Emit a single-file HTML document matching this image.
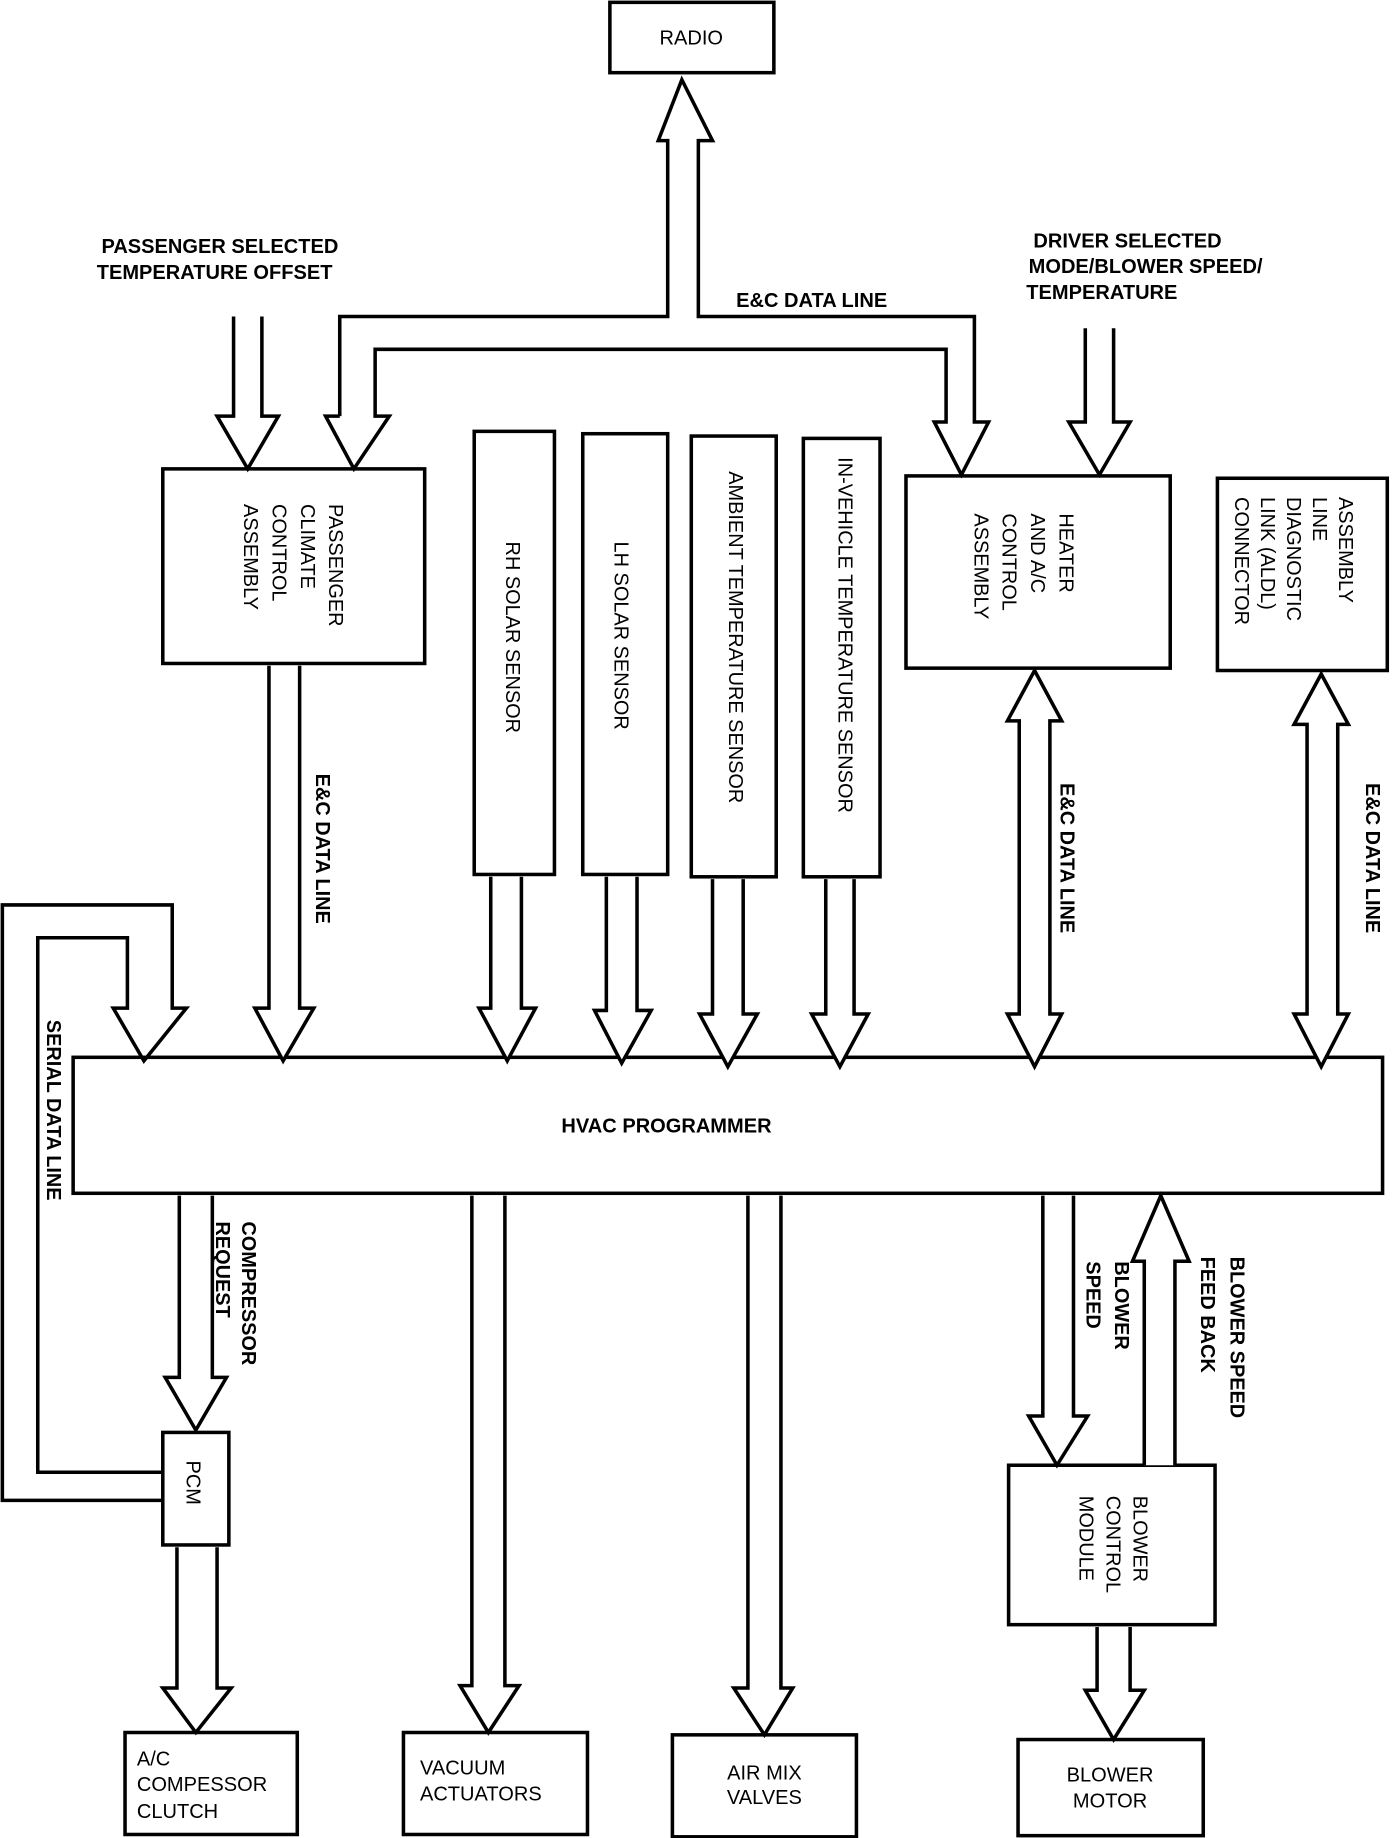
<!DOCTYPE html>
<html><head><meta charset="utf-8"><style>
html,body{margin:0;padding:0;background:#fff;}
svg{display:block;}
text{font-family:"Liberation Sans",Arial,sans-serif;fill:#000;}
.b{font-weight:bold;font-size:17px;}
.n{font-size:17px;}
</style></head><body>
<svg width="1392" height="1838" viewBox="0 0 1180 1568" preserveAspectRatio="none" xmlns="http://www.w3.org/2000/svg">
<g fill="#fff" stroke="#000" stroke-width="3" stroke-linejoin="miter">
<!-- boxes -->
<rect x="517" y="2" width="139" height="60"/>
<rect x="138" y="400" width="222" height="166"/>
<rect x="402" y="368" width="68" height="378"/>
<rect x="494" y="370" width="72" height="376"/>
<rect x="586" y="372" width="72" height="376"/>
<rect x="681" y="374" width="65" height="374"/>
<rect x="768" y="406" width="224" height="164"/>
<rect x="1032" y="408" width="144" height="164"/>
<rect x="62" y="902" width="1110" height="116"/>
<rect x="138" y="1222" width="56" height="96"/>
<rect x="106" y="1478" width="146" height="87"/>
<rect x="342" y="1478" width="156" height="87"/>
<rect x="570" y="1480" width="156" height="87"/>
<rect x="855" y="1250" width="175" height="136"/>
<rect x="863" y="1484" width="157" height="82"/>

<!-- radio / E&C network -->
<polyline points="288,355 288,270 566,270 566,120 558,120 578,68 604,120 592,120 592,270 826,270 826,360 838,360 815,405 792,360 802,360 802,298 318,298 318,355 330,355 300,400 276,355 288,355" fill="#fff"/>
<!-- passenger selected arrow -->
<polyline points="198,270 198,355 184,355 210,400 236,355 222,355 222,270"/>
<!-- driver arrow -->
<polyline points="920,280 920,360 906,360 932,405 958,360 944,360 944,280"/>
<!-- passenger down -->
<polyline points="228,568 228,860 216,860 240,905 266,860 254,860 254,568"/>
<!-- sensor arrows -->
<polyline points="416,748 416,860 406,860 430,905 454,860 442,860 442,748"/>
<polyline points="514,748 514,862 504,862 527,907 552,862 540,862 540,748"/>
<polyline points="604,750 604,865 593,865 617,910 642,865 630,865 630,750"/>
<polyline points="700,750 700,865 688,865 712,910 736,865 724,865 724,750"/>
<!-- double arrows -->
<polygon points="877,572 900,615 890,615 890,865 900,865 877,910 854,865 864,865 864,615 854,615"/>
<polygon points="1120,575 1143,618 1134,618 1134,865 1143,865 1120,910 1097,865 1108,865 1108,618 1097,618"/>
<!-- serial data line -->
<polyline points="138,1280 2,1280 2,772 146,772 146,860 158,860 122,905 96,860 108,860 108,800 32,800 32,1256 138,1256" fill="none"/>
<!-- compressor request -->
<polyline points="152,1020 152,1175 140,1175 166,1220 192,1175 180,1175 180,1020"/>
<!-- PCM down -->
<polyline points="150,1320 150,1440 138,1440 166,1478 196,1440 184,1440 184,1320"/>
<!-- vacuum -->
<polyline points="400,1020 400,1438 390,1438 414,1478 440,1438 428,1438 428,1020"/>
<!-- air mix -->
<polyline points="634,1020 634,1440 622,1440 648,1480 672,1440 662,1440 662,1020"/>
<!-- blower speed -->
<polyline points="884,1020 884,1208 872,1208 896,1250 922,1208 910,1208 910,1020"/>
<!-- feed back -->
<polyline points="970,1250 970,1076 960,1076 984,1020 1008,1076 996,1076 996,1250"/>
<!-- blower down -->
<polyline points="930,1388 930,1442 920,1442 944,1484 970,1442 958,1442 958,1388"/>
</g>

<!-- horizontal labels -->
<text class="n" x="586" y="38" text-anchor="middle">RADIO</text>
<text class="b" x="86" y="216">PASSENGER SELECTED</text>
<text class="b" x="82" y="238">TEMPERATURE OFFSET</text>
<text class="b" x="624" y="262">E&amp;C DATA LINE</text>
<text class="b" x="876" y="211">DRIVER SELECTED</text>
<text class="b" x="872" y="233">MODE/BLOWER SPEED/</text>
<text class="b" x="870" y="255">TEMPERATURE</text>
<text class="b" x="565" y="966" text-anchor="middle">HVAC PROGRAMMER</text>
<text class="n" x="116" y="1506">A/C</text>
<text class="n" x="116" y="1528">COMPESSOR</text>
<text class="n" x="116" y="1551">CLUTCH</text>
<text class="n" x="356" y="1514">VACUUM</text>
<text class="n" x="356" y="1536">ACTUATORS</text>
<text class="n" x="648" y="1518" text-anchor="middle">AIR MIX</text>
<text class="n" x="648" y="1539" text-anchor="middle">VALVES</text>
<text class="n" x="941" y="1520" text-anchor="middle">BLOWER</text>
<text class="n" x="941" y="1542" text-anchor="middle">MOTOR</text>

<!-- rotated labels -->
<g class="n">
<text class="n" transform="translate(279,430) rotate(90)">PASSENGER</text>
<text class="n" transform="translate(255,430) rotate(90)">CLIMATE</text>
<text class="n" transform="translate(231,430) rotate(90)">CONTROL</text>
<text class="n" transform="translate(207,430) rotate(90)">ASSEMBLY</text>
<text class="n" transform="translate(429,462) rotate(90)">RH SOLAR SENSOR</text>
<text class="n" transform="translate(521,462) rotate(90)">LH SOLAR SENSOR</text>
<text class="n" transform="translate(618,402) rotate(90)">AMBIENT TEMPERATURE SENSOR</text>
<text class="n" transform="translate(711,390) rotate(90)">IN-VEHICLE TEMPERATURE SENSOR</text>
<text class="n" transform="translate(898,438) rotate(90)">HEATER</text>
<text class="n" transform="translate(874,438) rotate(90)">AND A/C</text>
<text class="n" transform="translate(850,438) rotate(90)">CONTROL</text>
<text class="n" transform="translate(826,438) rotate(90)">ASSEMBLY</text>
<text class="n" transform="translate(1135,424) rotate(90)">ASSEMBLY</text>
<text class="n" transform="translate(1113,424) rotate(90)">LINE</text>
<text class="n" transform="translate(1091,424) rotate(90)">DIAGNOSTIC</text>
<text class="n" transform="translate(1069,424) rotate(90)">LINK (ALDL)</text>
<text class="n" transform="translate(1047,424) rotate(90)">CONNECTOR</text>
<text class="n" transform="translate(158,1246) rotate(90)">PCM</text>
<text class="n" transform="translate(961,1276) rotate(90)">BLOWER</text>
<text class="n" transform="translate(938,1276) rotate(90)">CONTROL</text>
<text class="n" transform="translate(915,1276) rotate(90)">MODULE</text>
</g>
<text class="b" transform="translate(268,660) rotate(90)">E&amp;C DATA LINE</text>
<text class="b" transform="translate(899,668) rotate(90)">E&amp;C DATA LINE</text>
<text class="b" transform="translate(1158,668) rotate(90)">E&amp;C DATA LINE</text>
<text class="b" transform="translate(40,870) rotate(90)">SERIAL DATA LINE</text>
<text class="b" transform="translate(205,1042) rotate(90)">COMPRESSOR</text>
<text class="b" transform="translate(183,1042) rotate(90)">REQUEST</text>
<text class="b" transform="translate(945,1076) rotate(90)">BLOWER</text>
<text class="b" transform="translate(921,1076) rotate(90)">SPEED</text>
<text class="b" transform="translate(1043,1072) rotate(90)">BLOWER SPEED</text>
<text class="b" transform="translate(1018,1072) rotate(90)">FEED BACK</text>
</svg>
</body></html>
